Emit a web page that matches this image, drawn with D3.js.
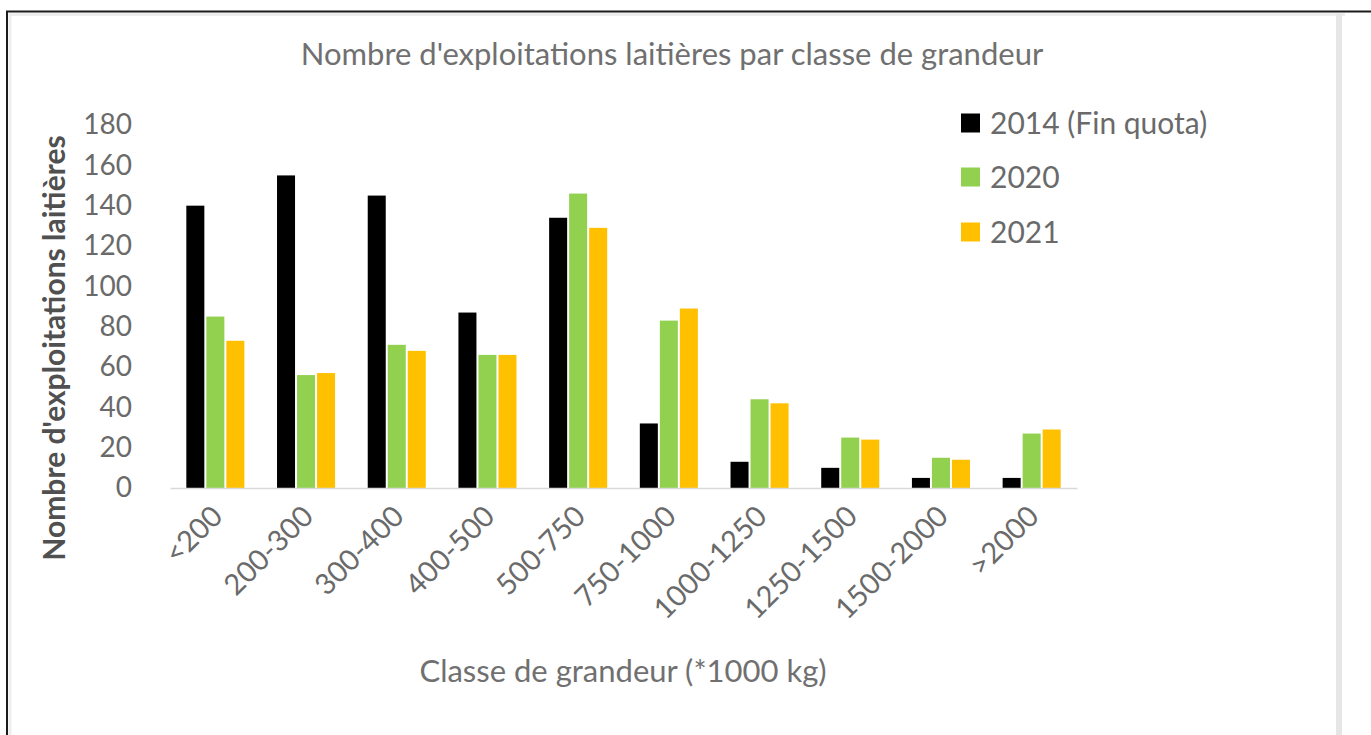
<!DOCTYPE html>
<html>
<head>
<meta charset="utf-8">
<script src="https://cdn.jsdelivr.net/npm/d3@7"></script>
<style>
  html, body { margin: 0; padding: 0; background: #fff; }
  svg { display: block; }
  text { font-family: Lato, "Open Sans", sans-serif; }
</style>
</head>
<body>
<svg id="chart" width="1371" height="735"></svg>
<script>
const categories = ["<200", "200-300", "300-400", "400-500", "500-750", "750-1000", "1000-1250", "1250-1500", "1500-2000", ">2000"];
const seriesNames = ["2014 (Fin quota)", "2020", "2021"];
const values2014 = [140, 155, 145, 87, 134, 32, 13, 10, 5, 5];
const values2020 = [85, 56, 71, 66, 146, 83, 44, 25, 15, 27];
const values2021 = [73, 57, 68, 66, 129, 89, 42, 24, 14, 29];
const yTicks = [0, 20, 40, 60, 80, 100, 120, 140, 160, 180];
const colors = ["#000000", "#92D050", "#FFC000"];
const seriesValues = [values2014, values2020, values2021];

const svg = d3.select("#chart");
svg.append("rect").attr("width", 1371).attr("height", 735).attr("fill", "#fff");

// frame
svg.append("line").attr("x1", 6).attr("x2", 1371).attr("y1", 11.5).attr("y2", 11.5).attr("stroke", "#1a1a1a").attr("stroke-width", 2);
svg.append("line").attr("x1", 7).attr("x2", 7).attr("y1", 11).attr("y2", 735).attr("stroke", "#1a1a1a").attr("stroke-width", 2);
svg.append("line").attr("x1", 9).attr("x2", 1345).attr("y1", 14.5).attr("y2", 14.5).attr("stroke", "#eeeeee").attr("stroke-width", 3);
svg.append("line").attr("x1", 10).attr("x2", 10).attr("y1", 14).attr("y2", 735).attr("stroke", "#eeeeee").attr("stroke-width", 3);
svg.append("rect").attr("x", 1336).attr("y", 14).attr("width", 6).attr("height", 721).attr("fill", "#e6e6e6");

const x = d3.scaleBand().domain(categories).range([170, 1077]).paddingInner(0.36).paddingOuter(0.18);
const xs = d3.scaleBand().domain(seriesNames).range([0, x.bandwidth()]).paddingInner(0.1);
const y = d3.scaleLinear().domain([0, 180]).range([488, 125]);

// title
svg.append("text").attr("x", 672).attr("y", 65).attr("text-anchor", "middle")
  .attr("fill", "#707070").style("font-size", "31px")
  .text("Nombre d'exploitations laitières par classe de grandeur");

// y axis
const yAxis = svg.append("g").attr("transform", "translate(170,0)")
  .call(d3.axisLeft(y).tickValues(yTicks).tickSize(0).tickPadding(38));
yAxis.select(".domain").remove();
yAxis.selectAll("text").attr("fill", "#6a6a6a").style("font-size", "28px").style("font-family", "Lato, sans-serif");

// y title
svg.append("text").attr("transform", "translate(65,348) rotate(-90)").attr("text-anchor", "middle")
  .attr("fill", "#505050").style("font-size", "30px").style("font-weight", "bold")
  .text("Nombre d'exploitations laitières");

// bars
const groups = svg.append("g").selectAll("g").data(categories).join("g")
  .attr("transform", d => `translate(${x(d)},0)`);
groups.selectAll("rect").data((d, i) => seriesNames.map((s, k) => ({ s, k, v: seriesValues[k][i] })))
  .join("rect")
  .attr("x", d => xs(d.s)).attr("width", xs.bandwidth())
  .attr("y", d => y(d.v)).attr("height", d => y(0) - y(d.v))
  .attr("fill", d => colors[d.k]);

// x axis
const xAxis = svg.append("g").attr("transform", `translate(0,${y(0)})`)
  .call(d3.axisBottom(x).tickSize(0).tickSizeOuter(0).tickPadding(0));
xAxis.select(".domain").attr("stroke", "#d9d9d9").attr("stroke-width", 1.5);
xAxis.selectAll("text")
  .attr("text-anchor", "end").attr("dy", "0")
  .attr("transform", "translate(9,30) rotate(-45)")
  .attr("y", 0)
  .attr("fill", "#6a6a6a").style("font-size", "29px").style("font-family", "Lato, sans-serif");

// x title
svg.append("text").attr("x", 623).attr("y", 682).attr("text-anchor", "middle")
  .attr("fill", "#707070").style("font-size", "31px")
  .text("Classe de grandeur (*1000 kg)");

// legend
const legend = svg.append("g").selectAll("g").data(seriesNames).join("g")
  .attr("transform", (d, i) => `translate(961,${[123, 177, 232][i]})`);
legend.append("rect").attr("x", 0).attr("y", -9.5).attr("width", 19).attr("height", 19)
  .attr("fill", (d, i) => colors[i]);
legend.append("text").attr("x", 29).attr("y", 0).attr("dy", "0.35em")
  .attr("fill", "#6a6a6a").style("font-size", "30px").text(d => d);
</script>
</body>
</html>
